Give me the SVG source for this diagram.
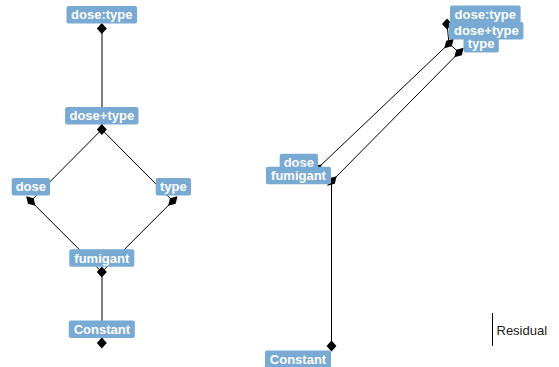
<svg xmlns="http://www.w3.org/2000/svg" xmlns:xlink="http://www.w3.org/1999/xlink" width="559" height="367" viewBox="0 0 559 367">
<defs>
<style>
.edge{stroke:#000;stroke-width:1;fill:none}
.box{fill:#78aad3;stroke:none}
.lbl{font-family:"Liberation Sans",Arial,sans-serif;font-weight:bold;font-size:13px;fill:#fff;text-anchor:middle}
.leg{font-family:"Liberation Sans",Arial,sans-serif;font-size:13px;fill:#1a1a1a}
</style>
<path id="dia" d="M0,-5.5 L5,0 L0,5.5 L-5,0 Z" fill="#000"/>
</defs>
<rect width="559" height="367" fill="#fff"/>
<g id="connectors">
<line class="edge" x1="102" y1="28.5" x2="102" y2="129.5"/>
<line class="edge" x1="101.8" y1="129.5" x2="30.8" y2="201"/>
<line class="edge" x1="101.8" y1="129.5" x2="172.8" y2="201"/>
<line class="edge" x1="30.8" y1="201" x2="101.8" y2="272"/>
<line class="edge" x1="172.8" y1="201" x2="101.8" y2="272"/>
<line class="edge" x1="102" y1="272" x2="102" y2="343"/>
<line class="edge" x1="447" y1="24" x2="449" y2="43.5"/>
<line class="edge" x1="449" y1="43.5" x2="459" y2="52.5"/>
<line class="edge" x1="449" y1="43.5" x2="318" y2="168"/>
<line class="edge" x1="459" y1="52.5" x2="332" y2="181"/>
<line class="edge" x1="318" y1="168" x2="332" y2="181"/>
<line class="edge" x1="331.5" y1="181" x2="331.5" y2="346"/>
</g>
<g id="L-dose-colon-type">
<use xlink:href="#dia" transform="translate(101.8,28.5)"/>
<rect class="box" x="66.5" y="6" width="70.6" height="17.5" rx="2"/>
<text class="lbl" x="101.8" y="19.3">dose:type</text>
</g>
<g id="L-dose-plus-type">
<use xlink:href="#dia" transform="translate(101.8,129.5)"/>
<rect class="box" x="65.1" y="107" width="73.4" height="17.5" rx="2"/>
<text class="lbl" x="101.8" y="120.3">dose+type</text>
</g>
<g id="L-dose">
<use xlink:href="#dia" transform="translate(30.8,201) rotate(-45) scale(0.8,1.2)"/>
<rect class="box" x="11.7" y="178" width="38.3" height="17.5" rx="2"/>
<text class="lbl" x="30.85" y="191.3">dose</text>
</g>
<g id="L-type">
<use xlink:href="#dia" transform="translate(172.8,201) rotate(45) scale(0.8,1.2)"/>
<rect class="box" x="155.7" y="178" width="35.3" height="17.5" rx="2"/>
<text class="lbl" x="173.35" y="191.3">type</text>
</g>
<g id="L-fumigant">
<use xlink:href="#dia" transform="translate(101.8,272)"/>
<rect class="box" x="69.3" y="249.2" width="65" height="17.5" rx="2"/>
<text class="lbl" x="101.8" y="262.5">fumigant</text>
</g>
<g id="L-Constant">
<use xlink:href="#dia" transform="translate(101.8,343)"/>
<rect class="box" x="68.8" y="320.5" width="66" height="17.5" rx="2"/>
<text class="lbl" x="101.8" y="333.8">Constant</text>
</g>
<g id="R-dose-colon-type">
<use xlink:href="#dia" transform="translate(447,24)"/>
<rect class="box" x="450" y="5.5" width="70.6" height="17.5" rx="2"/>
<text class="lbl" x="485.3" y="18.8">dose:type</text>
</g>
<g id="R-type">
<use xlink:href="#dia" transform="translate(459,52.5) rotate(45) scale(0.8,1.2)"/>
<rect class="box" x="463.5" y="35" width="35.3" height="17.5" rx="2"/>
<text class="lbl" x="481.15" y="48.3">type</text>
</g>
<g id="R-dose-plus-type">
<use xlink:href="#dia" transform="translate(449,43.5) rotate(45) scale(0.8,1.2)"/>
<rect class="box" x="448.8" y="22" width="74.6" height="17.5" rx="2"/>
<text class="lbl" x="486.3" y="35.3">dose+type</text>
</g>
<g id="R-dose">
<use xlink:href="#dia" transform="translate(317,169) rotate(45) scale(0.8,1.2)"/>
<rect class="box" x="279.7" y="153.7" width="38.3" height="17.5" rx="2"/>
<text class="lbl" x="298.85" y="167">dose</text>
</g>
<g id="R-fumigant">
<use xlink:href="#dia" transform="translate(332,181) rotate(45) scale(0.8,1.2)"/>
<rect class="box" x="266" y="166.8" width="65" height="17.5" rx="2"/>
<text class="lbl" x="298.5" y="180.1">fumigant</text>
</g>
<g id="R-Constant">
<use xlink:href="#dia" transform="translate(331.5,346)"/>
<rect class="box" x="265" y="350.6" width="66" height="17.5" rx="2"/>
<text class="lbl" x="298" y="363.9">Constant</text>
</g>
<g id="legend">
<line class="edge" x1="492.5" y1="313" x2="492.5" y2="346"/>
<text class="leg" x="496.5" y="335">Residual</text>
</g>
</svg>
